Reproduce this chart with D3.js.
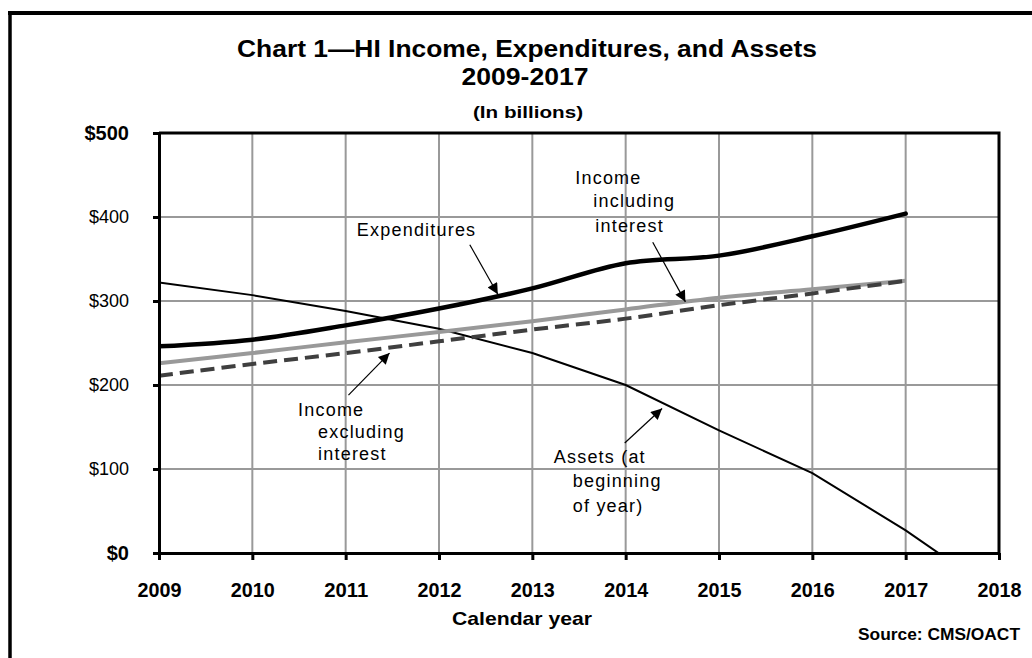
<!DOCTYPE html>
<html>
<head>
<meta charset="utf-8">
<script src="https://cdn.jsdelivr.net/npm/d3@7"></script>
<style>
  html, body { margin: 0; padding: 0; background: #fff; }
  svg { display: block; font-family: "Liberation Sans", Arial, sans-serif; }
</style>
</head>
<body>
<svg id="chart" width="1032" height="658"></svg>
<script>
// HI trust fund operations, calendar years 2009-2017 (in billions)
const years = [2009, 2010, 2011, 2012, 2013, 2014, 2015, 2016, 2017];
const expenditures       = [246, 254, 271, 291, 315, 345, 354, 377, 404];
const incomeInclInterest = [226, 238, 251, 263, 276, 290, 304, 314, 324];
const incomeExclInterest = [211, 225, 238, 252, 266, 279, 295, 309, 324];
// Assets at beginning of year; the fund runs out during 2017
const assetYears = [2009, 2010, 2011, 2012, 2013, 2014, 2015, 2016, 2017, 2018];
const assetsBeginningOfYear = [322, 307, 288, 267, 238, 200, 146, 95, 27, -50];

const xTickYears = [2009, 2010, 2011, 2012, 2013, 2014, 2015, 2016, 2017, 2018];
const yTickValues = [0, 100, 200, 300, 400, 500];

const titleLines = ["Chart 1\u2014HI Income, Expenditures, and Assets", "2009-2017", "(In billions)"];
const xAxisTitle = "Calendar year";
const sourceNote = "Source: CMS/OACT";

const svg = d3.select("#chart");

const plot = { left: 159, right: 999, top: 133, bottom: 553 };
const x = d3.scaleLinear().domain([2009, 2018]).range([plot.left, plot.right]);
const y = d3.scaleLinear().domain([0, 500]).range([plot.bottom, plot.top]);

// Outer frame (top and left edges)
svg.append("line").attr("x1", 8).attr("x2", 1032).attr("y1", 13).attr("y2", 13)
  .attr("stroke", "#000").attr("stroke-width", 4);
svg.append("line").attr("x1", 10).attr("x2", 10).attr("y1", 11).attr("y2", 658)
  .attr("stroke", "#000").attr("stroke-width", 3.5);

// Title block
const titleSpecs = [
  { size: 24, y: 57, cx: 527, len: 580 },
  { size: 23, y: 85, cx: 525, len: 127 },
  { size: 17, y: 118, cx: 528, len: 110 }
];
titleLines.forEach((t, i) => {
  const s = titleSpecs[i];
  svg.append("text")
    .attr("x", s.cx).attr("y", s.y)
    .attr("text-anchor", "middle")
    .attr("font-size", s.size).attr("font-weight", "bold")
    .attr("textLength", s.len).attr("lengthAdjust", "spacingAndGlyphs")
    .text(t);
});

// Gridlines
const grid = svg.append("g").attr("stroke", "#999").attr("stroke-width", 2);
grid.selectAll("line.h").data(yTickValues.filter(v => v > 0 && v < 500)).join("line")
  .attr("class", "h")
  .attr("x1", plot.left).attr("x2", plot.right)
  .attr("y1", d => y(d)).attr("y2", d => y(d));
grid.selectAll("line.v").data(xTickYears.filter(v => v > 2009 && v < 2018)).join("line")
  .attr("class", "v")
  .attr("x1", d => x(d)).attr("x2", d => x(d))
  .attr("y1", plot.top).attr("y2", plot.bottom);

// Plot border (top and right)
svg.append("path")
  .attr("d", `M${plot.left},${plot.top}H${plot.right}V${plot.bottom}`)
  .attr("fill", "none").attr("stroke", "#000").attr("stroke-width", 3);

// Series
const clipId = "plotClip";
svg.append("clipPath").attr("id", clipId).append("rect")
  .attr("x", plot.left).attr("y", plot.top)
  .attr("width", plot.right - plot.left).attr("height", plot.bottom - plot.top);

const series = svg.append("g").attr("clip-path", `url(#${clipId})`);

const lineLinear = d3.line().x(d => x(d[0])).y(d => y(d[1]));
const lineSmooth = d3.line().x(d => x(d[0])).y(d => y(d[1])).curve(d3.curveCatmullRom.alpha(0.5));

series.append("path")
  .datum(d3.zip(assetYears, assetsBeginningOfYear))
  .attr("d", lineLinear)
  .attr("fill", "none").attr("stroke", "#000").attr("stroke-width", 2);

series.append("path")
  .datum(d3.zip(years, incomeInclInterest))
  .attr("d", lineSmooth)
  .attr("fill", "none").attr("stroke", "#999").attr("stroke-width", 4);

series.append("path")
  .datum(d3.zip(years, incomeExclInterest))
  .attr("d", lineSmooth)
  .attr("fill", "none").attr("stroke", "#3f3f3f").attr("stroke-width", 4)
  .attr("stroke-dasharray", "14,7");

series.append("path")
  .datum(d3.zip(years, expenditures))
  .attr("d", lineSmooth)
  .attr("fill", "none").attr("stroke", "#000").attr("stroke-width", 4.5)
  .attr("stroke-linecap", "round");

// Axes
const yAxis = svg.append("g")
  .attr("transform", `translate(${plot.left},0)`)
  .call(d3.axisLeft(y).tickValues(yTickValues).tickSize(6).tickSizeOuter(0)
    .tickFormat(d => "$" + d));
yAxis.select(".domain").attr("stroke-width", 3);
yAxis.selectAll(".tick line").attr("stroke-width", 3);
yAxis.selectAll(".tick text")
  .attr("x", -30)
  .attr("font-family", "Liberation Sans, Arial, sans-serif")
  .attr("fill", "#000")
  .attr("font-size", d => (d === 0 || d === 500) ? 20 : 18)
  .attr("font-weight", d => (d === 0 || d === 500) ? "bold" : "normal");

const xAxis = svg.append("g")
  .attr("transform", `translate(0,${plot.bottom})`)
  .call(d3.axisBottom(x).tickValues(xTickYears).tickSize(7).tickSizeOuter(0)
    .tickFormat(d3.format("d")));
xAxis.select(".domain").attr("stroke-width", 3);
xAxis.selectAll(".tick line").attr("stroke-width", 3);
xAxis.selectAll(".tick text")
  .attr("y", 44).attr("dy", 0)
  .attr("font-family", "Liberation Sans, Arial, sans-serif")
  .attr("fill", "#000")
  .attr("font-size", 21).attr("font-weight", "bold")
  .attr("textLength", 44).attr("lengthAdjust", "spacingAndGlyphs");

svg.append("text")
  .attr("x", 522).attr("y", 625)
  .attr("text-anchor", "middle")
  .attr("font-size", 19).attr("font-weight", "bold")
  .attr("textLength", 140).attr("lengthAdjust", "spacingAndGlyphs")
  .text(xAxisTitle);

svg.append("text")
  .attr("x", 1020).attr("y", 640)
  .attr("text-anchor", "end")
  .attr("font-size", 17).attr("font-weight", "bold")
  .attr("textLength", 162).attr("lengthAdjust", "spacingAndGlyphs")
  .text(sourceNote);

// Callout labels with arrows (anchors in data units, line offsets in px)
const callouts = [
  { lines: [["Expenditures", 0, 0]], at: [2011.12, 377],
    from: [2012.33, 367], to: [2012.63, 308] },
  { lines: [["Income", 0, 0], ["excluding", 20, 22], ["interest", 20, 44]], at: [2010.49, 163],
    from: [2011.03, 188], to: [2011.47, 238] },
  { lines: [["Income", 0, 0], ["including", 18, 23], ["interest", 20, 48]], at: [2013.46, 439],
    from: [2014.29, 370], to: [2014.64, 299] },
  { lines: [["Assets (at", 0, 0], ["beginning", 19, 24], ["of year)", 19, 49]], at: [2013.23, 107],
    from: [2013.99, 131], to: [2014.39, 172] }
];

const defs = svg.append("defs");
defs.append("marker")
  .attr("id", "arrowHead")
  .attr("viewBox", "0 0 10 10")
  .attr("refX", 10).attr("refY", 5)
  .attr("markerWidth", 15).attr("markerHeight", 11)
  .attr("markerUnits", "userSpaceOnUse")
  .attr("orient", "auto")
  .append("path").attr("d", "M0,0L10,5L0,10Z").attr("fill", "#000");

const notes = svg.append("g");
callouts.forEach(c => {
  const ax = x(c.at[0]), ay = y(c.at[1]);
  c.lines.forEach(([t, dx, dy]) => {
    notes.append("text")
      .attr("x", ax + dx).attr("y", ay + dy)
      .attr("font-size", 18).attr("letter-spacing", 1.2)
      .attr("fill", "#000")
      .text(t);
  });
  notes.append("line")
    .attr("x1", x(c.from[0])).attr("y1", y(c.from[1]))
    .attr("x2", x(c.to[0])).attr("y2", y(c.to[1]))
    .attr("stroke", "#000").attr("stroke-width", 1.2)
    .attr("marker-end", "url(#arrowHead)");
});
</script>
</body>
</html>
